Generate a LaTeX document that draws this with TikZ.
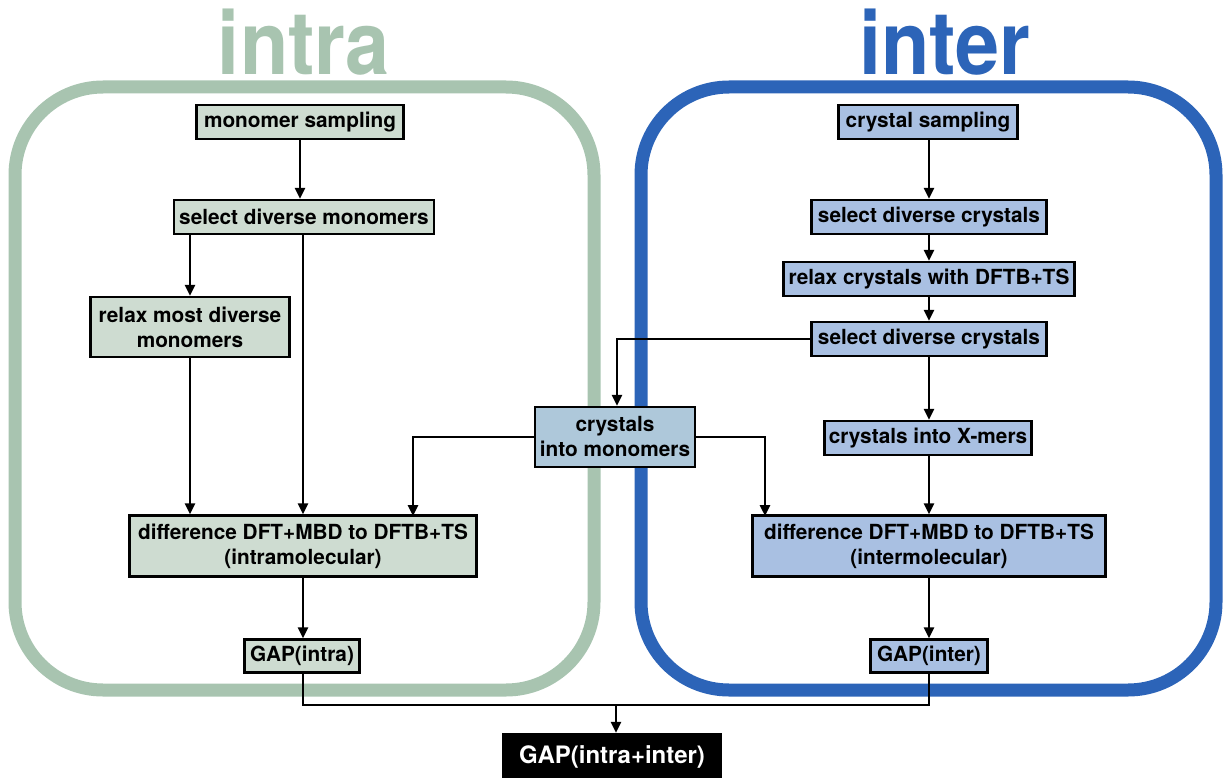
\documentclass[tikz,border=0pt]{standalone}
\usepackage{fontspec}
\setmainfont{TeX Gyre Heros}
\usetikzlibrary{arrows.meta}
\definecolor{gstroke}{RGB}{168,196,176}
\definecolor{gfill}{RGB}{206,220,209}
\definecolor{bstroke}{RGB}{44,100,184}
\definecolor{bfill}{RGB}{169,192,226}
\definecolor{mfill}{RGB}{174,200,218}
\begin{document}
\begin{tikzpicture}[x=1pt,y=-1pt,
  box/.style={draw=black, line width=2.3pt, font=\fontsize{20.8}{25}\selectfont\bfseries, align=center, inner sep=0pt, minimum height=34pt},
  gbox/.style={box, fill=gfill},
  bbox/.style={box, fill=bfill},
  arr/.style={line width=2.7pt, -{Triangle[length=11pt,width=10pt]}},
  ln/.style={line width=2.7pt},
  frame/.style={line width=13pt, rounded corners=88pt},
  head/.style={font=\fontsize{88}{88}\selectfont\bfseries, anchor=base, inner sep=0pt}]
\useasboundingbox (0,0) rectangle (1223,778);
% frames
\draw[frame, draw=gstroke] (15,87) rectangle (594,690);
\draw[frame, draw=bstroke] (641,87) rectangle (1216,690);
% headers
\node[head, text=gstroke] (hintra) at (304,75) {\scalebox{0.9}[1]{intra}};
\node[head, text=bstroke] (hinter) at (945,75) {\scalebox{0.9}[1]{inter}};
% intra nodes
\node[gbox, minimum width=207pt] (ms) at (300,122) {monomer sampling};
\node[gbox, minimum width=260pt] (sdm) at (304,217) {select diverse monomers};
\node[gbox, minimum width=199pt, minimum height=60pt] (rel) at (190,327) {relax most diverse\\monomers};
\node[gbox, minimum width=347pt, minimum height=61pt] (dintra) at (303,546) {difference DFT+MBD to DFTB+TS\\(intramolecular)};
\node[gbox, minimum width=115pt, minimum height=33pt] (gi) at (302,656) {GAP(intra)};
% inter nodes
\node[bbox, minimum width=179pt] (cs) at (928,122) {crystal sampling};
\node[bbox, minimum width=235pt] (sdc) at (929,217) {select diverse crystals};
\node[bbox, minimum width=291pt] (rc) at (929,279) {relax crystals with DFTB+TS};
\node[bbox, minimum width=235pt] (sdc2) at (929,339) {select diverse crystals};
\node[bbox, minimum width=207pt] (xm) at (928,438) {crystals into X-mers};
\node[bbox, minimum width=353pt, minimum height=61pt] (dinter) at (929,546) {difference DFT+MBD to DFTB+TS\\(intermolecular)};
\node[bbox, minimum width=117pt, minimum height=33pt] (ge) at (929,656) {GAP(inter)};
% middle
\node[box, fill=mfill, minimum width=160pt, minimum height=60pt] (cim) at (615,437) {crystals\\into monomers};
\node[box, fill=black, text=white, minimum width=217pt, minimum height=46pt, font=\fontsize{24}{28}\selectfont\bfseries] (gall) at (612,757) {GAP(intra+inter)};
% helper coordinates
\coordinate (c1) at (413,516);
\coordinate (c2) at (765,516);
\coordinate (j) at (616,705);
% intra arrows
\draw[arr] (ms.south -| 300,0) -- (sdm.north -| 300,0);
\draw[arr] (sdm.south -| rel) -- (rel.north);
\draw[arr] (sdm.south -| 303,0) -- (dintra.north -| 303,0);
\draw[arr] (rel.south) -- (rel.south |- dintra.north);
\draw[arr] (dintra.south -| 303,0) -- (gi.north -| 303,0);
% inter arrows
\draw[arr] (cs.south -| 929,0) -- (sdc.north -| 929,0);
\draw[arr] (sdc) -- (rc);
\draw[arr] (rc) -- (sdc2);
\draw[arr] (sdc2.south -| 929,0) -- (xm.north -| 929,0);
\draw[arr] (xm.south -| 929,0) -- (dinter.north -| 929,0);
\draw[arr] (dinter) -- (ge);
% crossing arrows
\draw[arr] (sdc2.west) -| (cim.north -| 617,0);
\draw[arr] (cim.west |- 0,437) -| (c1);
\draw[arr] (cim.east |- 0,437) -| (c2);
% merge
\draw[ln] (gi.south -| 303,0) |- (j) -| (ge.south);
\draw[arr] (j) -- (gall.north -| j);
\end{tikzpicture}
\end{document}
